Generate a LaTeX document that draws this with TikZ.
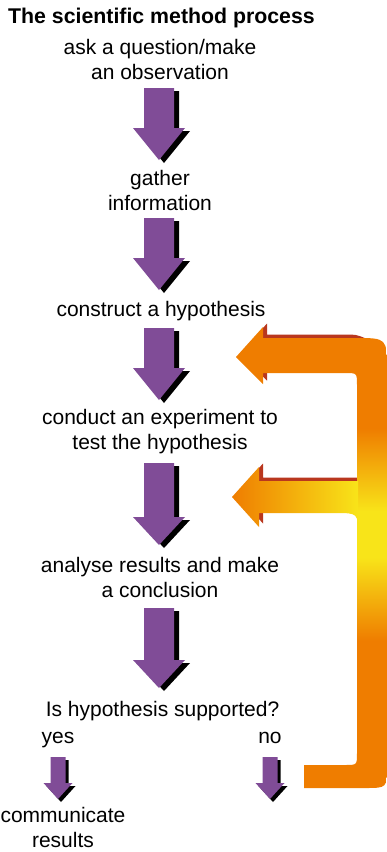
\documentclass[tikz,border=0pt]{standalone}
\usepackage{fontspec}
\setmainfont{Liberation Sans}
\usepackage{xcolor}
\usepackage{tikz}
\usetikzlibrary{positioning}

\definecolor{stepviolet}{RGB}{128,76,151}
\definecolor{loopamber}{RGB}{239,125,0}
\definecolor{loopyellow}{RGB}{248,228,25}
\definecolor{looprust}{RGB}{185,55,30}
\pgfdeclareverticalshading{loopshade}{100bp}{color(0bp)=(loopamber); color(41bp)=(loopamber); color(50bp)=(loopyellow); color(55bp)=(loopyellow); color(64bp)=(loopamber); color(100bp)=(loopamber)}

\begin{document}
\begin{tikzpicture}[
			x = 1pt, y = -1pt,
			steptext/.style = {align=center, inner sep=0pt, font=\fontsize{21}{25}\selectfont},
			headtext/.style = {inner sep=0pt, font=\bfseries\fontsize{21.3}{25}\selectfont},
			loopshadow/.style = {fill=looprust, shift={(4,-3.5)}}
			]
			\useasboundingbox (0,0) rectangle (387,852);

			% feedback loop
			\path[loopshadow] (236,357) -- (263,327) -- (263,338) -- (340,338)
				.. controls (352,338) .. (362,342) -- (340,373) -- (263,373) -- (263,384) -- cycle;
			\path[loopshadow] (232,497) -- (259,467) -- (259,481) -- (357,481)
				-- (357,513) -- (259,513) -- (259,527) -- cycle;
			\shade[shading=loopshade] (236,357) -- (263,327) -- (263,338) -- (355,338)
				.. controls (387,338) .. (387,370) -- (387,766) .. controls (387,788) .. (365,788)
				-- (304,788) -- (304,765) -- (345,765) .. controls (357,765) .. (357,753)
				-- (357,385) .. controls (357,373) .. (345,373) -- (263,373) -- (263,384) -- cycle;
			\shade[left color=loopamber, right color=loopyellow] (232,497) -- (259,467) -- (259,481)
				-- (358,481) -- (358,535) .. controls (358,513) .. (335,513) -- (259,513) -- (259,527) -- cycle;

			% steps
			\node[headtext, anchor=base west] (title) at (8,23) {The scientific method process};
			\node[steptext] (ask) at (160,59.5) {ask a question/make\\an observation};
			\node[steptext] (gather) at (160,190) {gather\\information};
			\node[steptext, anchor=base] (hypo) at (161,316) {construct a hypothesis};
			\node[steptext] (test) at (160,431.5) {conduct an experiment to\\test the hypothesis};
			\node[steptext] (analyse) at (160,577.5) {analyse results and make\\a conclusion};
			\node[steptext, anchor=base] (check) at (162.5,716) {Is hypothesis supported?};
			\node[steptext, anchor=base] (yes) at (58,743) {yes};
			\node[steptext, anchor=base] (no) at (270,743) {no};
			\node[steptext] (report) at (63,827) {communicate\\results};

			% violet arrows: x/top/neck/tip/shaft/head/shadow
			\foreach \x/\t/\n/\e/\w/\h/\s in {159/88/128/160/15/26/5, 159/218/258/290/15/26/5,
					159/328/368/400/15/26/5, 159/463/517/545/15/26/5, 159/608/660/688/15/26/5,
					58/757/783/799/7.5/14.5/3, 270/757/783/799/7.5/14.5/3} {
					\fill[black, shift={(\s,3)}] (\x-\w,\t) -- (\x+\w,\t) -- (\x+\w,\n) -- (\x+\h,\n)
						-- (\x,\e) -- (\x-\h,\n) -- (\x-\w,\n) -- cycle;
					\fill[stepviolet] (\x-\w,\t) -- (\x+\w,\t) -- (\x+\w,\n) -- (\x+\h,\n)
						-- (\x,\e) -- (\x-\h,\n) -- (\x-\w,\n) -- cycle;
				}
		\end{tikzpicture}
\end{document}
